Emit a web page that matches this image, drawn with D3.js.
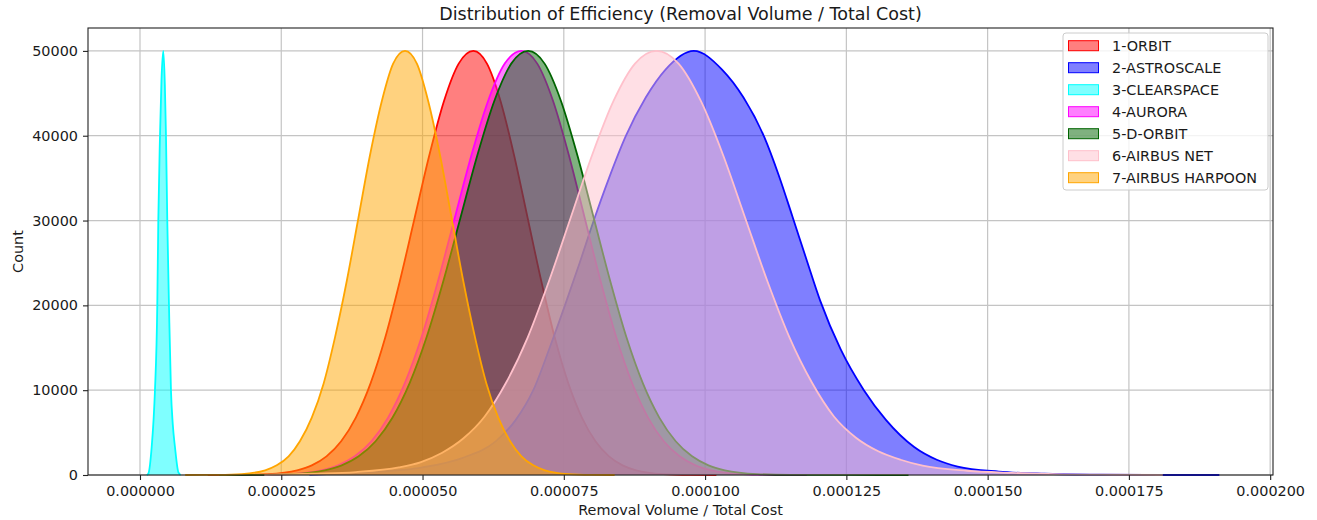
<!DOCTYPE html>
<html>
<head>
<meta charset="utf-8">
<script src="https://cdn.jsdelivr.net/npm/d3@7"></script>
<style>
body { margin: 0; background: #fff; }
svg text { font-family: "DejaVu Sans", sans-serif; fill: #1a1a1a; }
</style>
</head>
<body>
<svg id="chart"></svg>
<script>
// x values in units of 1e-6 (Removal Volume / Total Cost), counts per bin
const seriesNames = ["1-ORBIT", "2-ASTROSCALE", "3-CLEARSPACE", "4-AURORA", "5-D-ORBIT", "6-AIRBUS NET", "7-AIRBUS HARPOON"];
const seriesColors = ["red", "blue", "cyan", "magenta", "darkgreen", "pink", "orange"];

const orbitX     = [12, 17.4, 22.6, 27.8, 30.4, 33.0, 35.6, 38.2, 40.8, 43.4, 46.0, 48.6, 51.2, 53.8, 56.4, 59,
                    61.4, 63.8, 66.2, 68.6, 71.0, 73.4, 75.8, 78.2, 80.6, 83.0, 85.4, 87.8, 92.6, 97.4, 102];
const orbitCount = [0, 17, 110, 555, 1140, 2200, 3980, 6770, 10800, 16200, 22900, 30300, 37700, 44100, 48500, 50000,
                    48500, 44100, 37700, 30300, 22900, 16200, 10800, 6770, 3980, 2200, 1140, 555, 110, 17, 0];

const astroX     = [30, 40, 50, 57, 63, 66.5, 69.6, 72.5, 75.2, 77.8, 80.3, 83, 86, 89.5, 93, 98, 103, 106.8, 110.5, 113, 115.4, 117.9, 120.4, 124, 128.1, 132, 137, 141, 144.7, 152, 160, 170, 178, 191];
const astroCount = [50, 300, 900, 2000, 4000, 6500, 10000, 15000, 20000, 25000, 30000, 35000, 40000, 44500, 47800, 50000, 47800, 44500, 39800, 35400, 30600, 25500, 20500, 14800, 10000, 6500, 3300, 1800, 1000, 400, 150, 40, 0, 0];

const clearX     = [1.2, 1.5, 2.07, 2.4, 2.65, 3.06, 3.24, 3.54, 3.8, 4.12, 4.4, 4.6, 4.83, 5.13, 5.48, 5.8, 6.19, 6.8, 7.2];
const clearCount = [0, 200, 3300, 6500, 10000, 20000, 30000, 40000, 46500, 50000, 46000, 40000, 30000, 20000, 10000, 6000, 3300, 300, 0];

const auroraX     = [14, 20.3, 26.2, 32.1, 35.05, 38.0, 40.95, 43.9, 46.85, 49.8, 52.75, 55.7, 58.65, 61.6, 64.55, 67.5,
                     70.3, 73.1, 75.9, 78.7, 81.5, 84.3, 87.1, 89.9, 92.7, 95.5, 98.3, 101.1, 106.7, 112.3, 118];
const auroraCount = [0, 17, 110, 555, 1140, 2200, 3980, 6770, 10800, 16200, 22900, 30300, 37700, 44100, 48500, 50000,
                     48500, 44100, 37700, 30300, 22900, 16200, 10800, 6770, 3980, 2200, 1140, 555, 110, 17, 0];

const dorbitX     = [14, 20.7, 26.7, 32.7, 35.7, 38.7, 41.7, 44.7, 47.7, 50.7, 53.7, 56.7, 59.7, 62.7, 65.7, 68.7,
                     71.6, 74.5, 77.4, 80.3, 83.2, 86.1, 89.0, 91.9, 94.8, 97.7, 100.6, 103.5, 109.3, 115.1, 125, 136];
const dorbitCount = [0, 17, 110, 555, 1140, 2200, 3980, 6770, 10800, 16200, 22900, 30300, 37700, 44100, 48500, 50000,
                     48500, 44100, 37700, 30300, 22900, 16200, 10800, 6770, 3980, 2200, 1140, 555, 110, 17, 5, 0];

const netX     = [22, 30.6, 38.2, 45.8, 49.6, 53.4, 57.2, 61.0, 64.8, 68.6, 72.4, 76.2, 80.0, 83.8, 87.6, 91.4,
                  95.3, 99.25, 103.2, 107.1, 111.0, 114.95, 118.9, 122.8, 126.7, 130.65, 134.6, 138.5, 146.35, 154.2, 162, 172, 181];
const netCount = [0, 150, 350, 900, 1500, 2600, 4300, 6900, 10900, 16200, 22900, 30300, 37700, 44100, 48500, 50000,
                  48500, 44100, 37700, 30300, 22900, 16200, 10900, 6900, 4400, 2800, 1800, 1100, 500, 250, 100, 30, 0];

const harpoonX     = [8, 13.9, 18.0, 22.15, 24.2, 26.3, 28.3, 30.4, 32.5, 34.5, 36.6, 38.65, 40.7, 42.8, 44.8, 46.9,
                      49.0, 51.0, 53.1, 55.15, 57.2, 59.3, 61.3, 63.4, 65.5, 67.5, 69.6, 71.65, 75.8, 79.9, 84];
const harpoonCount = [0, 20, 110, 555, 1140, 2200, 3980, 6770, 10800, 16200, 22900, 30300, 37700, 44100, 48500, 50000,
                      48500, 44100, 37700, 30300, 22900, 16200, 10800, 6770, 3980, 2200, 1140, 555, 110, 20, 0];

const xTicks = [0, 25, 50, 75, 100, 125, 150, 175, 200];
const yTicks = [0, 10000, 20000, 30000, 40000, 50000];

const seriesX = [orbitX, astroX, clearX, auroraX, dorbitX, netX, harpoonX];
const seriesCount = [orbitCount, astroCount, clearCount, auroraCount, dorbitCount, netCount, harpoonCount];

/** ---------------------------------------------------------------- */

const width = 1317;
const height = 520;
const margin = {left: 88, right: 44, top: 28, bottom: 45};

let svg = d3.select("#chart")
    .attr("width", width)
    .attr("height", height);

const x = d3.scaleLinear()
    .domain([-9.2, 200.5])
    .range([margin.left, width - margin.right]);

const y = d3.scaleLinear()
    .domain([0, 52700])
    .range([height - margin.bottom, margin.top]);

const plotLeft = x.range()[0], plotRight = x.range()[1];
const plotTop = y.range()[1], plotBottom = y.range()[0];

// grid
let grid = svg.append("g");
xTicks.forEach(t => {
    grid.append("line")
        .attr("x1", x(t)).attr("x2", x(t))
        .attr("y1", plotTop).attr("y2", plotBottom)
        .attr("stroke", "#c4c4c4")
        .attr("stroke-width", 1.2);
});
yTicks.forEach(t => {
    grid.append("line")
        .attr("x1", plotLeft).attr("x2", plotRight)
        .attr("y1", y(t)).attr("y2", y(t))
        .attr("stroke", "#c4c4c4")
        .attr("stroke-width", 1.2);
});

// histograms, drawn in legend order
const area = d3.area()
    .curve(d3.curveMonotoneX)
    .x(d => x(d[0]))
    .y0(y(0))
    .y1(d => y(d[1]));

const line = d3.line()
    .curve(d3.curveMonotoneX)
    .x(d => x(d[0]))
    .y(d => y(d[1]));

let plot = svg.append("g");
seriesNames.forEach((name, i) => {
    const pts = seriesX[i].map((v, j) => [v, seriesCount[i][j]]);
    plot.append("path")
        .attr("d", area(pts))
        .attr("fill", seriesColors[i])
        .attr("fill-opacity", 0.5);
    plot.append("path")
        .attr("d", line(pts))
        .attr("fill", "none")
        .attr("stroke", seriesColors[i])
        .attr("stroke-width", 1.8);
});

// frame
svg.append("rect")
    .attr("x", plotLeft)
    .attr("y", plotTop)
    .attr("width", plotRight - plotLeft)
    .attr("height", plotBottom - plotTop)
    .attr("fill", "none")
    .attr("stroke", "#222")
    .attr("stroke-width", 1.1);

// axes
const xAxis = d3.axisBottom(x)
    .tickValues(xTicks)
    .tickSize(5)
    .tickPadding(6)
    .tickFormat(d => (d * 1e-6).toFixed(6));

const yAxis = d3.axisLeft(y)
    .tickValues(yTicks)
    .tickSize(5)
    .tickPadding(5)
    .tickFormat(d => d.toString());

let gx = svg.append("g")
    .attr("transform", `translate(0, ${plotBottom})`)
    .call(xAxis);
let gy = svg.append("g")
    .attr("transform", `translate(${plotLeft}, 0)`)
    .call(yAxis);

[gx, gy].forEach(g => {
    g.select(".domain").remove();
    g.selectAll(".tick line").attr("stroke", "#222").attr("stroke-width", 1.1);
    g.selectAll(".tick text")
        .attr("font-size", 14.4)
        .attr("font-family", "DejaVu Sans")
        .attr("fill", "#1a1a1a");
});

// titles
svg.append("text")
    .attr("x", (plotLeft + plotRight) / 2)
    .attr("y", 20)
    .attr("text-anchor", "middle")
    .attr("font-size", 17.5)
    .text("Distribution of Efficiency (Removal Volume / Total Cost)");

svg.append("text")
    .attr("x", (plotLeft + plotRight) / 2)
    .attr("y", 515)
    .attr("text-anchor", "middle")
    .attr("font-size", 14.4)
    .text("Removal Volume / Total Cost");

svg.append("text")
    .attr("transform", `translate(23, ${(plotTop + plotBottom) / 2}) rotate(-90)`)
    .attr("text-anchor", "middle")
    .attr("font-size", 14.4)
    .text("Count");

// legend
let legend = svg.append("g");
legend.append("rect")
    .attr("x", 1063)
    .attr("y", 33)
    .attr("width", 205)
    .attr("height", 157)
    .attr("rx", 3)
    .attr("fill", "white")
    .attr("fill-opacity", 0.8)
    .attr("stroke", "#cccccc")
    .attr("stroke-width", 1);

seriesNames.forEach((name, i) => {
    const cy = 45.7 + i * 22;
    legend.append("rect")
        .attr("x", 1068.5)
        .attr("y", cy - 5)
        .attr("width", 30)
        .attr("height", 10)
        .attr("fill", seriesColors[i])
        .attr("fill-opacity", 0.5)
        .attr("stroke", seriesColors[i])
        .attr("stroke-width", 1);
    legend.append("text")
        .attr("x", 1112)
        .attr("y", cy + 5)
        .attr("font-size", 14.4)
        .text(name);
});
</script>
</body>
</html>
